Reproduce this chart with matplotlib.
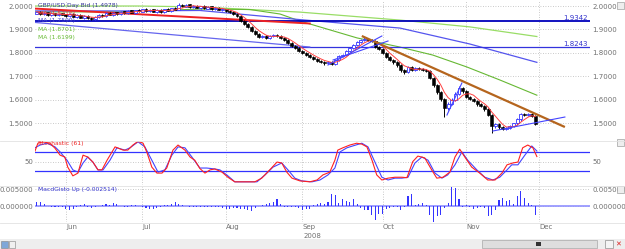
import numpy as np
import pandas as pd
import matplotlib
matplotlib.use("Agg")
import matplotlib.pyplot as plt
from matplotlib.patches import Rectangle

# ---------------- data (day index 0 = Mon 2 Jun 2008, weekdays only) ----------------
first_day = -8
opens = [1.968,1.975,1.964,1.973,1.961,1.969,1.960,1.969,
         1.964,1.956,1.967,1.954,1.963,1.949,1.959,1.950,1.945,1.954,
         1.963,1.957,1.971,1.962,1.973,1.965,1.977,1.969,1.981,1.971,1.983,
         1.976,1.987,1.977,1.986,1.975,1.984,1.974,1.987,1.979,1.991,
         1.985,
         2.006,1.997,2.007,1.995,2.002,1.992,2.000,1.989,1.998,1.987,1.993,1.983,
         1.986,1.979,1.974,1.966,1.957,1.936,1.923,1.911,1.894,1.881,1.868,1.872,1.864,1.872,1.876,1.872,1.864,1.855,1.842,1.830,1.821,
         1.808,1.800,1.791,1.783,1.774,1.766,1.761,1.757,1.761,1.753,1.770,1.787,1.791,1.808,1.821,1.834,1.847,1.855,1.859,1.855,1.851,1.825,
         1.817,1.800,1.783,1.770,1.761,1.749,1.727,1.719,1.740,1.727,1.736,1.732,1.727,1.723,1.693,1.663,1.634,1.604,1.565,1.583,1.600,1.625,1.651,
         1.638,1.612,1.604,1.595,1.583,1.574,1.561,1.536,1.487,1.496,1.483,1.476,1.480,1.489,1.500,1.517,1.540,1.536,1.540,1.531]
highs = [1.980,1.978,1.975,1.976,1.973,1.972,1.971,1.972,
         1.967,1.969,1.970,1.965,1.966,1.961,1.962,1.953,1.958,1.966,
         1.966,1.973,1.974,1.975,1.976,1.979,1.980,1.983,1.984,1.985,1.986,
         1.989,1.990,1.988,1.989,1.986,1.987,1.989,1.990,1.993,1.994,
         2.013,
         2.010,2.009,2.010,2.004,2.005,2.002,2.003,2.000,2.001,1.995,1.996,1.990,
         1.989,1.983,1.978,1.970,1.961,1.941,1.929,1.916,1.899,1.886,1.878,1.877,1.878,1.881,1.881,1.876,1.868,1.859,1.846,1.834,1.825,
         1.813,1.805,1.796,1.788,1.778,1.770,1.766,1.766,1.765,1.775,1.792,1.796,1.813,1.826,1.840,1.852,1.861,1.866,1.864,1.860,1.856,1.830,
         1.822,1.805,1.788,1.776,1.766,1.754,1.733,1.746,1.744,1.742,1.740,1.736,1.730,1.728,1.698,1.668,1.640,1.610,1.590,1.606,1.632,1.658,1.656,
         1.642,1.618,1.609,1.600,1.588,1.579,1.566,1.540,1.500,1.500,1.488,1.484,1.493,1.503,1.521,1.545,1.546,1.544,1.545,1.535]
lows = [1.965,1.962,1.961,1.959,1.958,1.957,1.957,1.960,
        1.953,1.953,1.952,1.951,1.947,1.946,1.945,1.940,1.942,1.951,
        1.955,1.954,1.960,1.959,1.963,1.962,1.967,1.966,1.969,1.968,1.974,
        1.973,1.975,1.974,1.973,1.972,1.972,1.971,1.977,1.976,1.981,
        1.982,
        1.995,1.994,1.993,1.992,1.990,1.989,1.987,1.986,1.985,1.984,1.981,1.980,
        1.975,1.970,1.962,1.952,1.931,1.918,1.905,1.888,1.875,1.862,1.864,1.859,1.860,1.867,1.867,1.859,1.850,1.837,1.825,1.816,1.803,
        1.795,1.786,1.778,1.769,1.761,1.756,1.750,1.752,1.747,1.748,1.765,1.782,1.786,1.803,1.816,1.829,1.842,1.850,1.849,1.846,1.820,1.812,
        1.795,1.778,1.764,1.754,1.742,1.720,1.712,1.714,1.722,1.722,1.727,1.722,1.717,1.688,1.657,1.627,1.596,1.527,1.558,1.578,1.594,1.619,1.631,
        1.606,1.598,1.589,1.576,1.568,1.554,1.530,1.459,1.482,1.478,1.470,1.471,1.475,1.484,1.495,1.512,1.530,1.531,1.526,1.493]
closes = [1.976,1.965,1.972,1.962,1.970,1.960,1.968,1.963,
          1.957,1.966,1.955,1.962,1.950,1.958,1.948,1.944,1.955,1.962,
          1.958,1.970,1.963,1.972,1.966,1.976,1.970,1.980,1.972,1.982,1.977,
          1.986,1.978,1.985,1.976,1.983,1.975,1.986,1.980,1.990,1.984,
          2.005,
          1.998,2.006,1.996,2.001,1.993,1.999,1.990,1.997,1.988,1.992,1.984,1.987,
          1.979,1.974,1.966,1.957,1.936,1.923,1.911,1.894,1.881,1.868,1.872,1.864,1.872,1.876,1.872,1.864,1.855,1.842,1.830,1.821,1.808,
          1.800,1.791,1.783,1.774,1.766,1.761,1.757,1.761,1.753,1.770,1.787,1.791,1.808,1.821,1.834,1.847,1.855,1.859,1.855,1.851,1.825,1.817,
          1.800,1.783,1.770,1.761,1.749,1.727,1.719,1.740,1.727,1.736,1.732,1.727,1.723,1.693,1.663,1.634,1.604,1.565,1.583,1.600,1.625,1.651,1.638,
          1.612,1.604,1.595,1.583,1.574,1.561,1.536,1.487,1.496,1.483,1.476,1.480,1.489,1.500,1.517,1.540,1.536,1.540,1.531,1.498]

month_labels = ["Jun", "Jul", "Aug", "Sep", "Oct", "Nov", "Dec"]
month_days = [0, 21, 44, 65, 87, 110, 130]
price_ticks = [1.5, 1.6, 1.7, 1.8, 1.9, 2.0]

# long moving averages (day index, price)
ma_green1_days = [-8.5, 20, 36.8, 64.3, 91.8, 111, 129.4]
ma_green1 = [2.000, 2.000, 1.996, 1.974, 1.940, 1.911, 1.870]
ma_green2_days = [-8.5, 14.8, 36.8, 50.5, 58.8, 64.3, 80, 91.8, 100.8, 110.2, 119.2, 129.4]
ma_green2 = [1.975, 1.975, 1.987, 1.985, 1.966, 1.936, 1.864, 1.825, 1.791, 1.740, 1.685, 1.620]
ma_blue_days = [-8.5, 14.8, 36.8, 64.3, 91.8, 111, 129.4]
ma_blue = [1.979, 1.979, 1.981, 1.942, 1.906, 1.838, 1.760]

# drawn trend lines (day index pairs, price pairs)
brown_days, brown_vals = [81.3, 137.1], [1.8722, 1.4844]
support_days, support_vals = [117.3, 137.1], [1.4674, 1.527]
chan1_days, chan1_vals = [72, 86.8], [1.7486, 1.8722]
chan2_days, chan2_vals = [73.4, 88.5], [1.770, 1.8509]
oct_days, oct_vals = [104.7, 108.8], [1.5356, 1.672]
longblue_days, longblue_vals = [-8.5, 67], [1.930, 1.8253]
red1_days, red1_vals = [-8.5, 67], [1.989, 1.9255]
level_hi, level_lo = 1.9342, 1.8243

# stochastic %K (red) and %D (blue)
stoch_k_days = [-8.5,-7.7,-6.3,-4.4,-3.0,-1.6,-0.3,0.5,1.9,3.3,4.7,6.0,7.4,8.8,9.9,11.3,13.5,15.7,17.0,18.4,19.8,
                21.2,22.3,23.6,25.0,26.4,27.7,29.4,30.8,32.7,34.1,35.4,36.8,38.2,39.6,40.9,42.9,44.5,46.4,48.6,51.9,
                53.8,56.0,58.0,59.3,60.7,62.1,64.3,67.0,69.0,70.6,72.5,73.9,74.7,76.1,78.0,79.9,81.3,82.7,84.1,85.4,
                86.8,88.5,90.4,92.3,93.7,95.3,96.7,98.6,100.5,101.9,103.6,105.5,106.9,108.2,109.6,111.5,113.7,115.9,
                117.9,119.8,121.2,122.8,124.2,125.5,126.9,128.3,129.4]
stoch_k = [73,90,93,90,79,64,60,38,19,25,64,60,49,32,32,53,82,75,75,86,94,
           90,69,38,25,25,36,75,86,75,60,53,35,25,32,34,27,16,6,6,6,
           14,32,49,47,27,14,8,6,10,21,27,53,75,80,86,90,88,82,53,21,
           10,14,16,16,15,50,62,58,32,14,16,27,60,77,60,38,25,10,
           10,25,43,47,49,80,86,80,61]
stoch_d_days = [-8.5,-7.1,-5.2,-3.0,-1.6,0.3,1.9,3.3,4.7,6.0,7.4,8.8,10.2,12.1,14.0,16.2,17.6,19.8,21.7,23.6,25.3,
                27.2,29.1,30.8,32.7,34.6,36.8,38.7,40.9,42.3,44.2,46.4,49.7,52.5,54.7,56.9,59.3,61.0,62.9,64.8,67.6,
                69.8,72.0,73.9,75.3,77.2,78.8,81.3,83.0,84.9,86.8,88.5,90.4,92.3,94.0,95.9,97.8,99.5,101.4,103.3,104.9,
                106.9,108.8,110.4,112.9,115.1,117.3,119.2,121.2,122.5,124.2,126.1,128.0,129.4]
stoch_d = [80,86,90,82,71,53,32,27,47,60,49,32,32,53,80,75,80,93,82,53,27,
           32,64,82,80,60,36,36,34,32,21,6,6,6,21,38,47,32,14,8,6,
           10,21,36,71,80,84,90,82,49,16,10,14,14,16,47,60,53,25,14,21,
           43,71,53,32,16,10,16,32,43,43,64,84,73]
stoch_levels = [30, 70]

# MACD histogram, one value per day
macd_hist = [0.0013,0.0012,0.0006,0.0002,-0.0002,-0.0003,-0.0002,-0.0003,
             -0.0008,-0.0010,-0.0009,-0.0003,0.0005,0.0008,-0.0003,-0.0005,-0.0002,0.0002,
             0.0004,0.0006,0.0004,0.0009,0.0008,0.0002,-0.0002,-0.0003,0.0003,0.0003,0.0001,
             -0.0002,-0.0006,-0.0008,-0.0007,-0.0004,-0.0001,0.0003,0.0005,0.0006,0.0012,
             0.0007,
             0.0003,0.0001,-0.0001,-0.0003,-0.0002,-0.0003,-0.0002,-0.0001,-0.0003,-0.0003,-0.0002,-0.0004,
             -0.0008,-0.0009,-0.0005,-0.0004,-0.0007,-0.0009,-0.0010,-0.0013,-0.0005,0.0002,0.0005,0.0008,0.0011,0.0014,0.0020,0.0007,-0.0002,-0.0002,-0.0001,-0.0002,-0.0004,
             -0.0010,-0.0008,-0.0007,0.0003,0.0006,0.0011,0.0006,0.0012,0.0035,0.0034,0.0009,0.0020,0.0016,0.0014,0.0022,0.0008,-0.0004,-0.0011,-0.0010,-0.0027,-0.0040,-0.0022,
             -0.0024,-0.0008,-0.0005,-0.0003,-0.0002,-0.0010,-0.0003,0.0030,0.0035,0.0005,0.0007,0.0010,0.0003,-0.0025,-0.0045,-0.0030,-0.0025,-0.0005,0.0010,0.0058,0.0055,0.0020,-0.0002,
             0.0005,-0.0003,-0.0008,-0.0004,-0.0002,-0.0006,-0.0028,-0.0025,-0.0010,0.0018,0.0024,0.0016,0.0018,0.0006,0.0030,0.0045,0.0024,0.0010,0.0003,-0.0025]

# ---------------- drawing ----------------
W, H = 625, 249
fig = plt.figure(figsize=(W / 100, H / 100), dpi=100)
fig.patch.set_facecolor("white")

def fx(px):
    return px / W

def fy(py):
    return 1 - py / H

left_px, right_px = 35, 590
axw = (right_px - left_px) / W
ax_p = fig.add_axes([fx(left_px), fy(140), axw, 140 / H])
ax_s = fig.add_axes([fx(left_px), fy(185), axw, 44 / H])
ax_m = fig.add_axes([fx(left_px), fy(222), axw, 36 / H])

XL = (-8.5, 144.0)
lab_col = "#707070"
grid_kw = dict(ls=(0, (1, 2)), color="#b8b8b8", lw=0.6)

for ax in (ax_p, ax_s, ax_m):
    ax.set_xlim(*XL)
    for s in ax.spines.values():
        s.set_visible(False)
    ax.set_xticks(month_days)
    ax.tick_params(axis="both", length=0, labelsize=5, colors=lab_col,
                   labelleft=True, labelright=True, pad=1.5)
    ax.tick_params(axis="x", labelbottom=False)
    ax.grid(True, **grid_kw)
    ax.set_axisbelow(True)

days = np.arange(first_day, first_day + len(closes))
o = np.array(opens); h = np.array(highs); l = np.array(lows); c = np.array(closes)

# price panel
ax_p.set_ylim(1.4291, 2.0256)
ax_p.set_yticks(price_ticks)
ax_p.set_yticklabels([f"{v:.4f}" for v in price_ticks])

ax_p.plot(ma_green1_days, ma_green1, color="#99dd66", lw=0.9, zorder=2)
ax_p.plot(ma_green2_days, ma_green2, color="#66b833", lw=0.8, zorder=2)
ax_p.plot(ma_blue_days, ma_blue, color="#5555ee", lw=0.9, zorder=2)
ax_p.axhline(level_hi, color="#0000bb", lw=1.3, zorder=2)
ax_p.axhline(level_lo, color="#3333dd", lw=0.9, zorder=2)
ax_p.plot(longblue_days, longblue_vals, color="#6666ee", lw=0.9, zorder=2)
ax_p.plot(red1_days, red1_vals, color="#ee2222", lw=1.4, zorder=2)

up = c >= o
bb = np.minimum(o, c)
bh = np.maximum(np.abs(c - o), 0.0012)
ax_p.vlines(days[~up], l[~up], h[~up], color="black", lw=0.7, zorder=3)
ax_p.vlines(days[up], l[up], h[up], color="#3333ff", lw=0.7, zorder=3)
ax_p.bar(days[~up], bh[~up], bottom=bb[~up], width=0.8, color="black",
         edgecolor="black", lw=0.4, zorder=4)
ax_p.bar(days[up], bh[up], bottom=bb[up], width=0.8, color="white",
         edgecolor="#3333ff", lw=0.6, zorder=4)

ma5 = pd.Series(closes).rolling(5, min_periods=1).mean()
ax_p.plot(days, ma5, color="#ff4040", lw=0.7, zorder=5)

ax_p.plot(brown_days, brown_vals, color="#b5651d", lw=1.6, zorder=6, solid_capstyle="butt")
for dd, vv in ((support_days, support_vals), (chan1_days, chan1_vals),
               (chan2_days, chan2_vals), (oct_days, oct_vals)):
    ax_p.plot(dd, vv, color="#4444ff", lw=0.8, zorder=6)

ax_p.text(0.995, level_hi, f"{level_hi:.4f}", transform=ax_p.get_yaxis_transform(),
          ha="right", va="bottom", fontsize=5, color="#3333cc")
ax_p.text(0.995, level_lo, f"{level_lo:.4f}", transform=ax_p.get_yaxis_transform(),
          ha="right", va="bottom", fontsize=5, color="#3333cc")

# stochastic panel
ax_s.set_ylim(-0.9, 94.8)
ax_s.set_yticks([50])
ax_s.set_yticklabels(["50"])
for lv in stoch_levels:
    ax_s.axhline(lv, color="#3333ff", lw=0.9, zorder=2)
ax_s.plot(stoch_d_days, stoch_d, color="#4444ff", lw=0.8, zorder=3)
ax_s.plot(stoch_k_days, stoch_k, color="#ff2020", lw=0.8, zorder=4)

# MACD panel
ax_m.set_ylim(-0.00462, 0.00597)
ax_m.set_yticks([0.0, 0.005])
ax_m.set_yticklabels(["0.000000", "0.005000"])
ax_m.axhline(0, color="#9090ff", lw=1.2, zorder=2)
ax_m.bar(days, macd_hist, width=0.3, color="#3333ff", zorder=3)
ax_m.tick_params(axis="x", labelbottom=True, pad=1.5)
ax_m.set_xticklabels(month_labels, ha="left")

# separators
for py in (140.5, 185.5, 222.5):
    fig.add_artist(plt.Line2D([0, 1], [fy(py), fy(py)], color="#e2e2e2", lw=0.6))

# panel captions
cap = dict(fontsize=4.3, va="center", ha="left")
fig.text(fx(38), fy(6), "GBP/USD Day Bid (1.4978)", color="#333399", **cap)
fig.text(fx(38), fy(13.5), "MA (1.5216)", color="#ee3333", **cap)
fig.text(fx(38), fy(20.5), "MA (1.7599)", color="#4444cc", **cap)
fig.text(fx(38), fy(29), "MA (1.8701)", color="#66bb33", **cap)
fig.text(fx(38), fy(37), "MA (1.6199)", color="#66bb33", **cap)
fig.text(fx(38), fy(143), "Stochastic (61)", color="#ee2222", **cap)
fig.text(fx(38), fy(189.5), "MacdGisto Up (-0.002514)", color="#3333cc", **cap)
fig.text(fx(312), fy(236), "2008", fontsize=5, color=lab_col, ha="center", va="center")

# chrome: close boxes and scrollbar
for py in (2, 139, 186):
    fig.add_artist(Rectangle((fx(617), fy(py + 7)), 7 / W, 7 / H, facecolor="#eeeeee",
                             edgecolor="#a0a0a0", lw=0.5))
fig.add_artist(Rectangle((0, 0), 1, 10 / H, facecolor="#eeeeee", edgecolor="none"))
fig.add_artist(Rectangle((fx(482), fy(248)), 115 / W, 8 / H, facecolor="#dedede",
                         edgecolor="#a8a8a8", lw=0.5))
fig.add_artist(Rectangle((fx(536), fy(246)), 5 / W, 4 / H, facecolor="#333333", edgecolor="none"))
fig.add_artist(Rectangle((fx(605), fy(248)), 8 / W, 8 / H, facecolor="#f4f4f4",
                         edgecolor="#909090", lw=0.5))
fig.add_artist(Rectangle((fx(1), fy(248)), 7 / W, 7 / H, facecolor="#7fa7d8", edgecolor="#808080", lw=0.4))
fig.add_artist(Rectangle((fx(9), fy(248)), 6 / W, 7 / H, facecolor="#f0f0f0", edgecolor="#808080", lw=0.4))
fig.text(fx(618), fy(244), "✕", color="#dd2222", fontsize=5, ha="center", va="center")

fig.savefig("out.png", dpi=100)
